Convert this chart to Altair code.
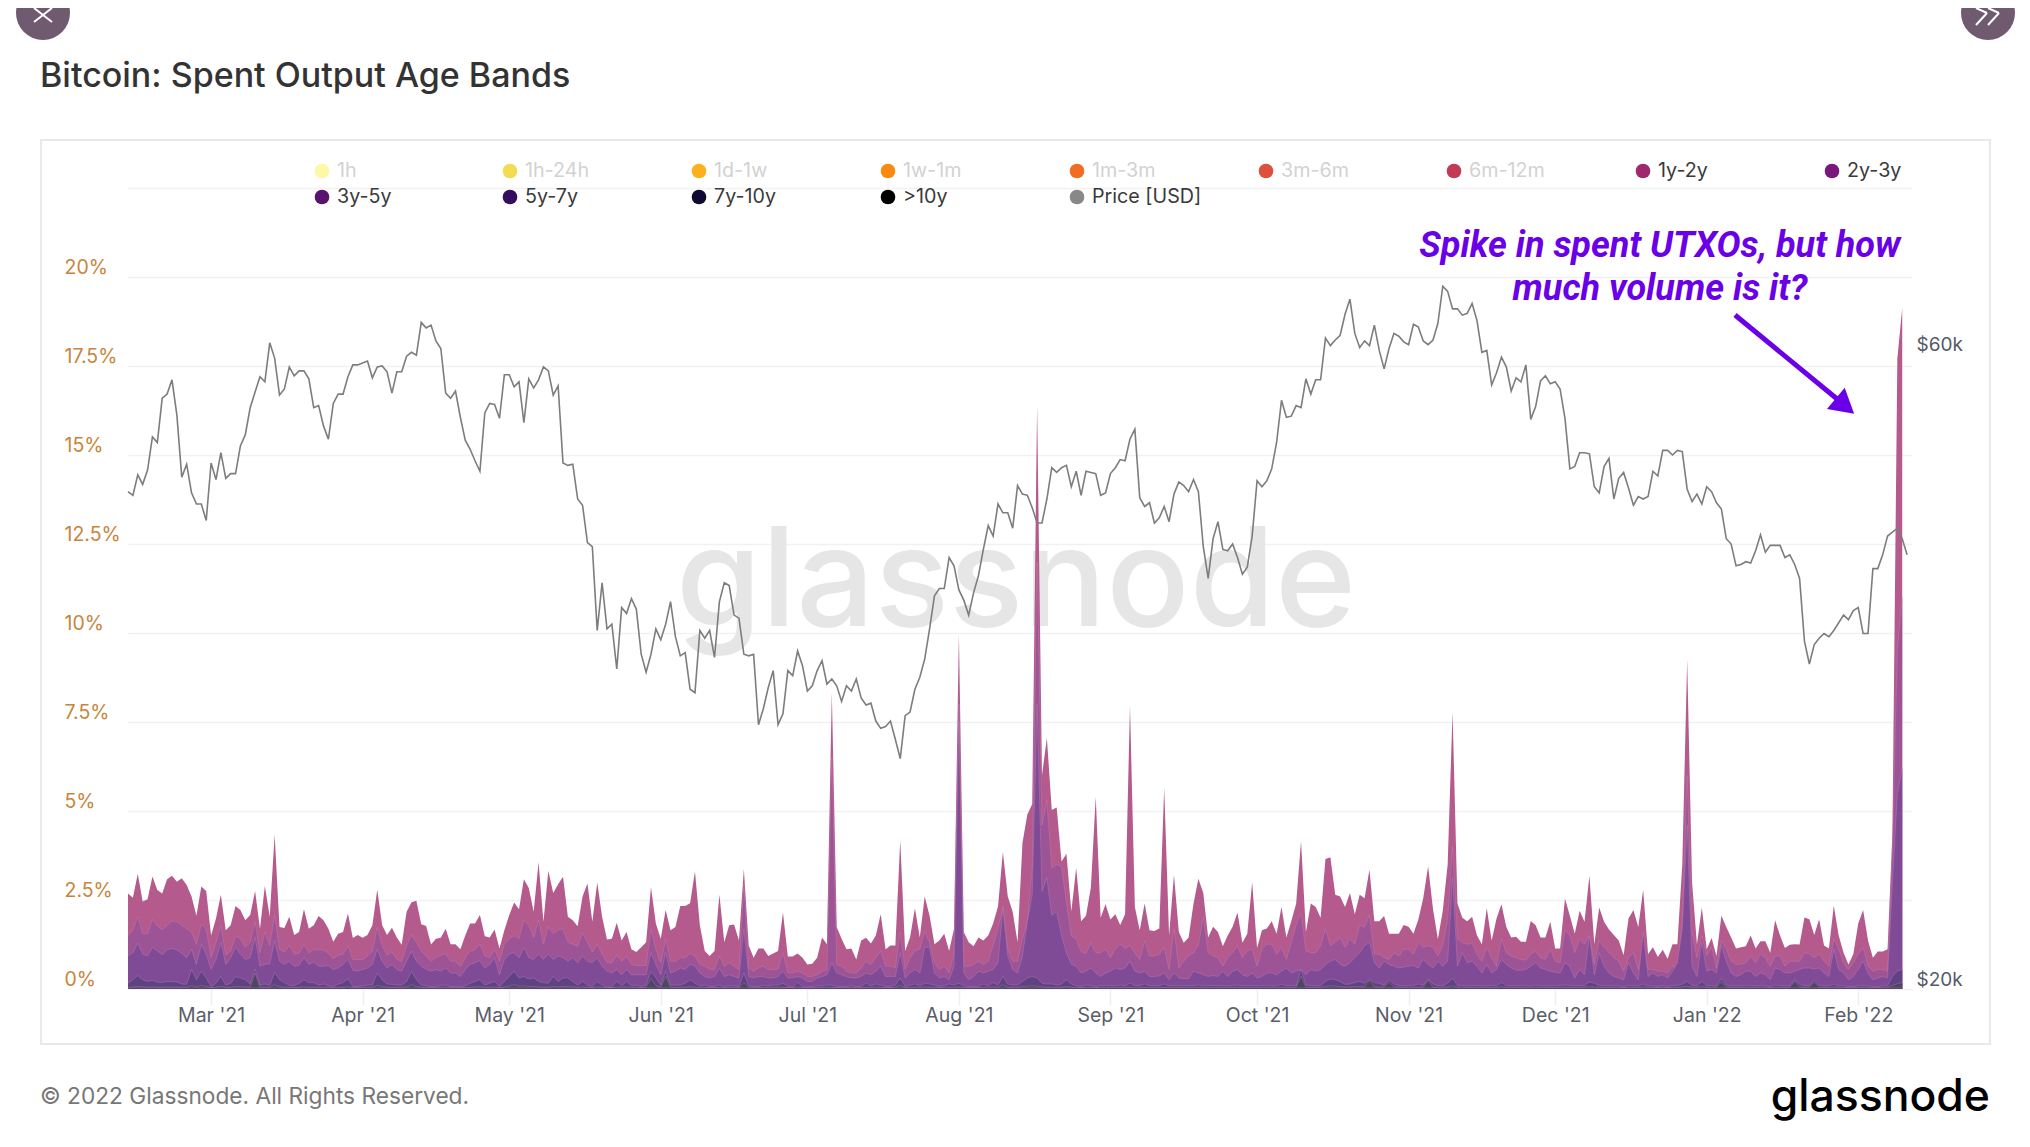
import altair as alt
import pandas as pd

band_1y2y = [
2.68,2.56,3.24,2.46,2.52,3.16,2.78,2.68,3.08,3.18,
3.01,3.11,2.92,2.60,2.06,2.88,2.75,1.50,1.98,2.65,
1.65,1.79,2.33,2.22,1.93,2.08,2.75,1.69,2.89,2.03,
4.33,1.74,1.71,2.03,1.52,1.60,2.24,1.69,1.79,2.05,
1.93,1.69,1.33,1.55,1.60,2.12,1.43,1.52,1.44,1.52,
1.79,2.79,1.79,1.52,1.72,1.45,1.24,2.17,2.44,2.48,
1.82,1.77,1.25,1.41,1.44,1.69,1.26,1.26,1.12,1.50,
1.84,1.84,2.08,1.48,1.45,1.67,1.14,1.65,2.08,2.43,
2.24,3.08,2.84,2.17,3.56,1.89,3.32,2.70,2.94,3.15,
2.03,1.93,1.76,2.60,2.96,1.89,2.99,2.03,1.39,1.41,
1.86,1.36,1.60,1.12,1.04,1.17,1.31,2.86,1.84,1.41,
2.22,1.65,1.74,2.33,2.33,2.41,3.30,1.79,1.07,.93,
1.07,2.65,1.31,1.79,1.81,1.36,3.37,1.22,.88,1.14,
1.14,.93,1.00,1.07,2.15,.91,.91,1.00,.88,.69,
.71,.88,1.45,1.26,8.33,1.74,1.41,1.12,1.14,.83,
1.36,1.44,1.28,1.50,2.10,1.12,1.22,1.22,4.18,1.07,
1.45,2.27,1.45,2.60,2.06,1.26,1.36,1.55,1.07,1.69,
9.97,1.6,1.31,1.20,1.45,1.36,1.50,1.84,2.32,3.85,
2.60,2.17,1.31,4.1,4.9,5.2,16.4,6.0,7.05,5.03,
5.1,3.58,3.8,2.18,3.4,1.9,2.06,2.85,5.4,2.0,
2.38,1.95,2.1,1.8,2.1,7.96,2.3,1.65,2.4,1.65,
1.63,1.7,5.65,1.5,3.2,1.6,1.3,1.45,2.4,3.1,
2.7,1.45,1.75,1.6,1.2,1.5,1.75,2.15,1.3,1.55,
3.0,1.15,1.65,1.7,1.9,1.55,2.3,1.45,1.9,2.4,
4.15,1.6,2.4,2.3,2.0,3.65,3.7,2.65,2.6,2.3,
2.7,2.1,2.65,2.55,3.35,1.9,1.9,2.05,1.55,1.55,
1.55,1.8,1.75,1.55,1.95,2.55,3.45,2.25,1.4,2.2,
3.5,7.78,2.4,2.0,1.9,2.03,1.5,1.26,2.27,1.36,
1.98,2.38,1.74,1.45,1.47,1.33,1.33,1.91,1.79,1.45,
1.45,1.89,1.14,1.14,2.54,2.06,1.55,2.2,1.89,3.18,
1.26,2.29,1.89,1.67,1.52,1.36,.95,1.98,2.22,1.74,
2.79,.98,1.17,.9,1.1,.85,1.26,1.26,3.5,9.24,
3.0,1.26,2.29,1.12,1.43,.93,2.06,1.74,1.45,1.14,
1.17,1.2,1.5,1.14,1.34,1.34,1.02,1.93,1.5,1.15,
1.24,1.26,1.25,2.01,1.96,1.52,1.96,1.22,1.14,2.34,
1.5,1.02,.69,.98,1.84,2.22,1.36,.88,1.05,1.05,
1.12,4.4,17.7,19.13]

band_2y3y = [
1.5,1.65,2.03,1.55,1.55,1.96,1.77,1.67,1.79,1.91,
1.89,1.79,1.69,1.6,1.26,1.82,1.69,.88,1.31,1.79,
.95,1.07,1.5,1.41,1.17,1.31,1.89,1.02,1.6,1.22,
2.08,1.12,1.04,1.22,.98,1.0,1.24,1.02,1.1,1.1,
1.1,1.0,.85,.95,.98,1.22,.83,.83,.83,.93,
1.07,1.74,1.22,.95,1.04,.83,.78,1.22,1.52,1.31,
1.07,.93,.78,.88,.95,.98,.78,.78,.62,.88,
1.07,1.1,1.26,.93,.88,1.12,.78,1.26,1.41,1.5,
1.41,1.93,1.79,1.45,1.93,1.26,1.74,1.55,1.65,1.69,
1.31,1.26,1.2,1.58,1.31,1.04,1.26,.98,.74,.74,
.95,.78,.91,.69,.66,.66,.66,1.69,1.12,.74,
1.41,.78,.78,.88,.88,1.0,.93,.69,.64,.55,
.55,.93,.64,.74,.64,.55,2.94,.59,.5,.59,
.64,.55,.55,.56,1.02,.45,.45,.5,.45,.35,
.35,.4,.5,.55,6.5,.69,.64,.5,.45,.45,
.59,.78,.69,.88,1.07,.64,.64,.59,1.6,.55,
.88,1.07,1.12,1.6,1.31,.74,.55,.64,.45,1.02,
8.0,.64,.64,.69,.78,.69,.78,1.22,1.69,2.32,
1.12,.78,.78,1.41,1.89,3.42,12.0,4.6,5.3,3.4,
3.5,3.42,2.46,1.5,1.4,1.05,1.0,1.3,1.02,1.02,
1.12,.88,1.12,1.26,1.14,1.22,1.02,.83,1.36,.93,
.93,.98,1.17,.55,1.69,.59,.78,.93,1.02,1.22,
2.03,1.02,.93,.88,.64,.88,1.02,1.22,.88,1.07,
1.12,.64,1.12,1.26,1.26,.98,1.17,.83,1.31,1.79,
2.13,1.07,1.02,1.02,1.22,1.69,1.22,1.31,1.45,1.17,
1.41,1.26,1.79,1.74,2.08,.98,.98,.88,.83,1.02,
.93,1.12,1.12,.98,1.31,1.17,1.22,1.17,.93,1.22,
1.98,4.0,1.41,1.31,1.26,1.29,.98,.78,1.17,.88,
.64,1.41,1.02,.93,.88,.83,.81,.98,1.07,.88,
.83,1.12,.78,.74,1.65,1.5,1.02,1.41,1.26,1.5,
.69,1.36,1.17,1.02,.88,.78,.5,.88,1.02,.55,
1.12,.55,.55,.5,.5,.45,.64,.55,1.89,6.0,
1.6,.88,1.5,.93,1.17,.59,1.36,1.12,.78,.69,
.69,.74,.93,.74,.98,.88,.64,.93,.93,.64,
.78,.78,.78,1.02,.98,.88,.98,.78,.64,1.41,
1.12,.74,.55,.74,.98,1.17,.64,.5,.55,.55,
.5,4.0,9.5,11.0]

band_3y5y = [
.93,1.02,1.29,.98,.93,1.17,1.07,.96,1.1,1.14,
1.1,1.0,.88,1.12,.69,1.26,.98,.55,.83,1.31,
.69,.88,1.17,.98,.83,.88,1.45,.64,.69,.71,
1.36,.78,.69,.78,.64,.67,.88,.69,.76,.64,
.64,.66,.55,.59,.69,.83,.53,.5,.55,.59,
.69,1.12,.78,.59,.69,.55,.5,.78,1.07,.78,
.64,.55,.5,.55,.5,.59,.45,.45,.35,.55,
.69,.74,.8,.59,.69,.88,.4,.83,.98,1.02,
.88,1.17,.88,.83,.98,.83,.98,.83,.93,.88,
.78,.88,.74,.93,.78,.74,.88,.64,.5,.45,
.55,.4,.55,.4,.4,.4,.4,1.02,.69,.4,
1.02,.45,.5,.59,.55,.69,.64,.45,.35,.31,
.35,.59,.35,.4,.35,.31,1.69,.35,.31,.35,
.35,.31,.31,.35,.5,.31,.31,.35,.31,.21,
.21,.31,.35,.4,.74,.45,.4,.35,.31,.31,
.35,.45,.4,.5,.64,.35,.35,.35,1.02,.31,
.45,.55,.45,1.17,1.17,.45,.31,.35,.26,.64,
7.5,.45,.26,.35,.5,.45,.5,.55,.74,2.27,
.93,.55,.45,.93,1.88,2.65,8.0,2.74,3.13,2.07,
2.17,1.5,1.02,.69,.64,.45,.5,.59,.45,.35,
.45,.5,.59,.55,.59,.78,.5,.45,.5,.35,
.35,.37,.45,.26,.45,.31,.29,.29,.5,.45,
.4,.35,.38,.35,.5,.35,.5,.55,.4,.35,
.45,.31,.35,.45,.45,.4,.5,.59,.45,.5,
.55,.4,.55,.5,.55,.69,.78,.83,.69,.64,
.74,.88,1.02,1.22,1.31,.74,.59,.78,.69,.64,
.59,.62,.64,.66,.59,.83,.69,.59,.78,.64,
.78,3.13,.64,1.02,.74,.78,.64,.45,.69,.45,
.55,.83,.69,.59,.53,.53,.55,.64,.74,.59,
.55,.5,.47,.45,.74,.64,.31,.55,.4,1.5,
.4,1.02,.64,.45,.35,.31,.26,.74,.45,.26,
1.6,.35,.45,.35,.4,.31,.5,.74,1.69,4.6,
.64,.35,1.31,.5,.55,.45,1.22,.78,.45,.35,
.4,.5,.5,.35,.45,.4,.26,.59,.55,.45,
.45,.5,.55,.59,.59,.56,.59,.45,.35,1.12,
.55,.45,.26,.35,.55,.78,.45,.26,.31,.35,
.31,3.0,5.5,6.2]

band_5y7y = [
.16,.26,.38,.26,.21,.24,.19,.18,.21,.21,
.2,.14,.13,.55,.26,.5,.31,.07,.16,.35,
.11,.16,.35,.31,.26,.14,.56,.11,.14,.11,
.47,.26,.18,.11,.09,.16,.26,.18,.18,.11,
.14,.09,.07,.14,.18,.29,.07,.07,.09,.11,
.11,.45,.26,.14,.13,.11,.11,.21,.5,.26,
.11,.09,.07,.07,.1,.11,.07,.07,.05,.09,
.16,.21,.26,.11,.16,.21,.07,.21,.35,.5,
.31,.35,.28,.31,.21,.18,.16,.35,.21,.31,
.31,.21,.11,.21,.11,.07,.21,.11,.05,.05,
.21,.09,.21,.09,.11,.07,.11,.5,.31,.11,
.5,.11,.11,.11,.16,.26,.16,.09,.11,.07,
.07,.11,.07,.09,.09,.07,.45,.09,.07,.07,
.11,.09,.11,.11,.16,.07,.05,.18,.07,.05,
.07,.09,.09,.11,.11,.07,.07,.07,.09,.07,
.07,.16,.09,.14,.11,.07,.07,.11,.31,.07,
.11,.14,.09,.16,.14,.11,.07,.09,.14,.11,
.16,.09,.07,.07,.07,.14,.09,.18,.11,.35,
.14,.11,.11,.21,.31,.35,.31,.16,.14,.14,
.11,.14,.26,.14,.09,.07,.11,.1,.07,.1,
.1,.1,.09,.11,.09,.16,.1,.1,.14,.1,
.1,.09,.14,.09,.1,.09,.1,.1,.09,.11,
.09,.1,.1,.09,.1,.09,.1,.11,.09,.1,
.1,.09,.1,.1,.09,.09,.13,.1,.1,.09,
.55,.11,.1,.09,.1,.21,.28,.26,.21,.13,
.14,.18,.21,.16,.28,.18,.16,.1,.26,.14,
.1,.09,.1,.1,.14,.1,.28,.14,.1,.09,
.16,.3,.1,.1,.09,.09,.1,.09,.09,.1,
.09,.18,.1,.09,.09,.1,.09,.09,.11,.09,
.09,.09,.09,.1,.11,.1,.09,.1,.09,.2,
.16,.1,.09,.09,.09,.09,.07,.1,.09,.09,
.14,.09,.09,.07,.09,.07,.1,.1,.14,.21,
.1,.09,.21,.09,.1,.09,.3,.11,.09,.09,
.09,.09,.1,.09,.1,.09,.07,.11,.1,.09,
.09,.26,.14,.1,.09,.26,.11,.09,.09,.14,
.09,.09,.07,.07,.09,.09,.09,.07,.07,.09,
.09,.35,.5,.55]

band_7y10y = [
.05,.06,.07,.06,.05,.06,.05,.05,.06,.05,
.05,.05,.05,.1,.06,.1,.07,.04,.05,.08,
.05,.05,.07,.07,.06,.05,.45,.05,.05,.05,
.12,.06,.05,.05,.04,.05,.06,.05,.05,.05,
.05,.05,.04,.05,.05,.07,.04,.04,.05,.05,
.05,.1,.07,.05,.05,.05,.05,.06,.12,.07,
.05,.04,.04,.04,.05,.05,.04,.04,.03,.05,
.05,.06,.07,.05,.05,.06,.04,.06,.08,.12,
.08,.09,.07,.08,.06,.05,.05,.08,.06,.07,
.07,.06,.05,.06,.05,.04,.06,.05,.03,.03,
.06,.05,.06,.05,.05,.04,.05,.3,.1,.05,
.36,.05,.05,.05,.05,.07,.05,.05,.05,.04,
.04,.05,.04,.05,.05,.04,.18,.05,.04,.04,
.05,.05,.05,.05,.05,.04,.03,.06,.04,.03,
.04,.05,.05,.05,.05,.04,.04,.04,.05,.04,
.04,.05,.05,.06,.05,.04,.04,.05,.1,.04,
.05,.05,.05,.06,.05,.05,.04,.05,.05,.05,
.06,.05,.04,.04,.04,.05,.05,.06,.05,.12,
.05,.05,.05,.07,.08,.09,.08,.06,.05,.05,
.05,.05,.07,.05,.05,.04,.05,.05,.04,.05,
.05,.05,.05,.05,.05,.05,.05,.05,.05,.05,
.05,.05,.05,.05,.05,.05,.05,.05,.05,.05,
.05,.05,.05,.05,.05,.05,.05,.05,.05,.05,
.05,.05,.05,.05,.05,.05,.05,.05,.05,.05,
.36,.05,.05,.05,.05,.07,.09,.08,.07,.05,
.06,.07,.07,.06,.25,.06,.05,.05,.2,.06,
.05,.05,.05,.05,.05,.05,.25,.05,.05,.05,
.06,.09,.05,.05,.05,.05,.05,.05,.05,.05,
.05,.07,.05,.05,.05,.05,.05,.05,.05,.05,
.05,.05,.05,.05,.05,.05,.05,.05,.05,.07,
.06,.05,.05,.05,.05,.05,.04,.05,.05,.05,
.06,.05,.05,.04,.05,.04,.05,.05,.06,.08,
.05,.05,.08,.05,.05,.05,.2,.05,.05,.05,
.05,.05,.05,.05,.05,.05,.04,.05,.05,.05,
.05,.22,.06,.05,.05,.2,.05,.05,.05,.06,
.05,.05,.04,.04,.05,.05,.05,.04,.04,.05,
.05,.1,.15,.18]

band_10y = [.03] * 364  # thin dark line along the baseline, about the same everywhere

price_k = [
47.3,47.0,48.7,47.9,49.1,52.0,51.5,55.6,56.0,57.4,54.0,48.5,49.6,47.2,46.3,46.3,45.0,
49.7,48.3,50.6,48.4,48.8,48.8,51.2,52.2,54.7,56.2,57.7,57.2,61.2,59.6,55.9,56.5,58.7,57.8,58.3,58.3,57.5,54.7,54.9,53.0,51.8,55.1,56.0,56.0,57.7,58.9,58.9,
59.1,59.3,57.6,58.7,58.8,58.2,56.1,58.2,58.2,59.8,60.2,59.9,63.4,62.8,63.1,61.4,60.6,56.1,55.6,56.3,53.8,51.7,50.9,49.9,49.0,54.2,55.1,55.0,53.7,57.9,
57.9,56.7,57.2,53.3,57.5,56.6,57.4,58.7,58.3,55.9,56.8,49.7,49.5,49.6,46.7,46.2,43.3,43.0,37.2,40.4,37.3,37.6,34.8,38.7,38.3,39.3,38.6,35.7,34.6,35.7,37.3,
36.6,37.6,39.1,36.8,35.6,35.8,33.6,33.4,37.2,36.7,37.2,35.5,39.1,40.4,40.2,38.2,38.0,35.7,35.6,35.7,31.6,32.5,33.7,34.7,31.6,32.2,34.7,34.4,35.9,35.0,
33.5,33.8,34.7,35.3,33.9,34.2,33.8,32.9,33.8,33.5,34.2,33.1,32.7,32.8,31.8,31.4,31.5,31.8,30.8,29.8,32.1,32.3,33.6,34.3,35.4,37.3,39.5,40.0,40.0,42.2,41.6,
39.9,39.2,38.2,39.7,40.9,42.8,44.6,43.8,46.3,45.6,45.6,44.4,47.8,47.1,47.0,46.0,44.8,44.8,46.7,49.3,48.9,49.3,49.5,47.7,49.0,47.0,49.0,48.9,48.8,47.0,47.2,
48.8,49.3,50.0,49.9,51.8,52.7,46.8,46.1,46.4,44.8,45.2,46.1,44.9,47.1,48.1,47.8,47.3,48.3,47.3,43.0,40.7,43.6,44.9,42.8,42.7,43.2,42.2,41.0,41.5,43.8,
48.2,47.7,48.2,49.2,51.5,55.4,53.8,53.9,54.9,54.7,57.5,56.0,57.4,57.4,61.7,60.9,61.5,62.0,64.3,66.0,62.2,60.7,61.4,60.9,63.1,60.4,58.5,60.6,62.2,61.9,61.3,
61.0,63.2,62.9,61.4,61.0,61.5,63.3,67.5,66.9,64.9,64.9,64.2,64.4,65.5,63.6,60.2,60.4,56.9,58.1,59.7,58.7,56.3,57.6,57.2,58.9,53.6,54.8,57.3,57.8,57.0,
57.2,56.5,53.7,49.2,49.4,50.6,50.6,50.5,47.7,47.2,49.4,50.1,46.7,48.4,48.9,47.6,46.2,46.9,46.7,46.9,49.0,48.6,50.8,50.8,50.4,50.8,50.7,47.5,46.5,47.1,46.3,
47.7,47.3,46.4,45.9,43.6,43.2,41.6,41.7,41.9,41.8,42.7,43.9,42.6,43.1,43.1,43.1,42.2,42.4,41.7,40.7,36.5,35.1,36.3,36.7,37.0,36.8,37.2,37.7,38.2,37.9,38.5,
38.7,37.0,37.0,41.4,41.4,42.4,43.8,44.1,44.4,43.6,42.4]

legend_names = ["1h","1h-24h","1d-1w","1w-1m","1m-3m","3m-6m","6m-12m","1y-2y","2y-3y",
                "3y-5y","5y-7y","7y-10y",">10y","Price [USD]"]
legend_colors = ["#fdf8a6","#f4dc52","#fdb11f","#f98a10","#f26c22","#dc503c","#c33a56","#9e2a6d","#78187a",
                 "#5a1270","#350d60","#100a30","#000000","#888888"]

dates = pd.date_range("2021-02-12", periods=364).strftime("%Y-%m-%d").tolist()
price_dates = pd.date_range("2021-02-12", periods=365).strftime("%Y-%m-%d").tolist()
df = pd.DataFrame({"date": dates, "b1": band_1y2y, "b2": band_2y3y, "b3": band_3y5y,
                   "b4": band_5y7y, "b5": band_7y10y, "b6": band_10y})
dfp = pd.DataFrame({"date": price_dates, "price": price_k})

LEFT, TOP = 128, 188
def fx(v): return v - LEFT
def fy(v): return v - TOP
blank = alt.Data(values=[{"a": 1}])
FONT = "Inter"

def label(txt, x, y, **kw):
    kw.setdefault("font", FONT)
    kw.setdefault("align", "left")
    kw.setdefault("baseline", "middle")
    return alt.Chart(blank).mark_text(text=txt, **kw).encode(x=alt.value(fx(x)), y=alt.value(fy(y)))

def seg(x1, y1, x2, y2, color, w):
    return alt.Chart(blank).mark_rule(color=color, strokeWidth=w).encode(
        x=alt.value(fx(x1)), x2=alt.value(fx(x2)), y=alt.value(fy(y1)), y2=alt.value(fy(y2)))

def dot(x, y, size, color, **kw):
    kw.setdefault("shape", "circle")
    return alt.Chart(blank).mark_point(filled=True, size=size, color=color, opacity=1, **kw).encode(
        x=alt.value(fx(x)), y=alt.value(fy(y)))

x_enc = alt.X("date:T", scale=alt.Scale(domain=["2021-02-12", "2022-02-12"]), title=None,
              axis=alt.Axis(format="%b '%y", tickCount={"interval": "month", "step": 1},
                            tickSize=16, tickColor="#efefef", tickWidth=1.5, domain=False, grid=False,
                            labelFont=FONT, labelFontSize=19.5, labelColor="#5a5d68", labelPadding=1,
                            labelOverlap=False))
y_scale = alt.Scale(domain=[0, 22.5], nice=False)
y_axis = alt.Axis(values=[0, 2.5, 5, 7.5, 10, 12.5, 15, 17.5, 20, 22.5], title=None, grid=True,
                  gridColor="#f1f1f1", gridWidth=1.5, ticks=False, domain=False,
                  labelAlign="left", labelPadding=64, labelOffset=-10, labelBaseline="middle",
                  labelFont=FONT, labelFontSize=19.5, labelColor="#c8853a", labelOverlap=False,
                  labelExpr="datum.value >= 22.5 ? '' : datum.value + '%'")

def band(field, color, first=False):
    kw = {} if first else {"line": {"color": "#c58ab8", "strokeWidth": 0.7, "opacity": 0.5}}
    return alt.Chart(df).mark_area(color=color, opacity=1, **kw).encode(
        x=x_enc,
        y=alt.Y(f"{field}:Q", scale=y_scale, axis=y_axis if first else None, title=None))

areas = [band("b1", "#b45a8c", True), band("b2", "#9c5496"), band("b3", "#7f4b96"),
         band("b4", "#5e4284"), band("b5", "#4e4763"), band("b6", "#3f3f55")]

price = alt.Chart(dfp).mark_line(color="#7d7d7d", strokeWidth=1.6, interpolate="linear").encode(
    x=x_enc,
    y=alt.Y("price:Q", scale=alt.Scale(type="log", domain=[20, 80], nice=False), title=None,
            axis=alt.Axis(orient="right", values=[20, 60], grid=False, ticks=False, domain=False,
                          labelPadding=4, labelOffset=-10, labelFont=FONT, labelFontSize=19,
                          labelColor="#555a66", labelExpr="'$' + datum.value + 'k'")))

frame = alt.Chart(blank).mark_rect(fill="transparent", stroke="#e9e9e9", strokeWidth=2).encode(
    x=alt.value(fx(41)), x2=alt.value(fx(1990)), y=alt.value(fy(140)), y2=alt.value(fy(1044)))

watermark = label("glassnode", 1016, 585, align="center", fontSize=138, color="#e6e6e6", fontWeight=500)

decor = [frame, watermark]
after = [
    label("Bitcoin: Spent Output Age Bands", 40, 77, fontSize=34, color="#333333", fontWeight=500),
    label("© 2022 Glassnode. All Rights Reserved.", 40, 1097, fontSize=22.7, color="#777777"),
    label("glassnode", 1990, 1098, align="right", fontSize=44.5, color="#000000", fontWeight=500),
    label("Spike in spent UTXOs, but how", 1660, 246, align="center", font="Roboto", fontSize=36,
          fontStyle="italic", fontWeight="bold", color="#6a00e8"),
    label("much volume is it?", 1660, 289, align="center", font="Roboto", fontSize=36,
          fontStyle="italic", fontWeight="bold", color="#6a00e8"),
    seg(1735, 315, 1842, 403, "#6a00e8", 5),
    dot(1845, 406, 760, "#6a00e8", shape="triangle-up", angle=130),
    dot(43, 13, 2916, "#6f5a6f"),
    dot(1988, 13, 2916, "#6f5a6f"),
    seg(34, 8, 52, 22, "#ffffff", 2), seg(52, 8, 34, 22, "#ffffff", 2),
    seg(1976, 8, 1987, 13, "#ffffff", 2), seg(1987, 13, 1976, 25, "#ffffff", 2),
    seg(1988, 8, 1999, 13, "#ffffff", 2), seg(1999, 13, 1988, 25, "#ffffff", 2),
]

legend_x = [322, 510, 699, 888, 1077, 1266, 1454, 1643, 1832]
legend_layers = []
for k, (nm, col) in enumerate(zip(legend_names, legend_colors)):
    x = legend_x[k % 9]
    y = 171 if k < 9 else 197
    legend_layers.append(dot(x, y, 215, col))
    legend_layers.append(label(nm, x + 15, y, fontSize=19.7, color="#d2d2d2" if k < 7 else "#3a3a3a"))

chart = alt.layer(*decor, *areas, price, *legend_layers, *after).resolve_scale(y="independent").properties(
    width=1784, height=801,
    padding={"left": 120, "top": 180, "right": 108, "bottom": 139},
    autosize=alt.AutoSizeParams(type="none"),
    background="white",
).configure_view(stroke=None)

chart.save("out.html", embed_options={"renderer": "svg", "actions": False})
